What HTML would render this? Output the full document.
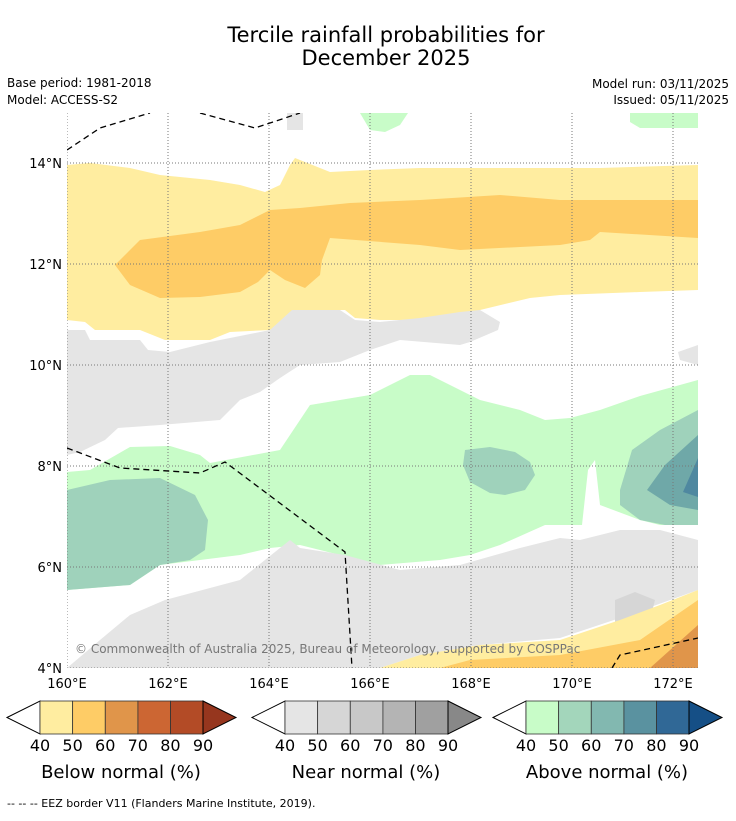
<!DOCTYPE html>
<html><head><meta charset="utf-8"><style>
body{margin:0;background:#fff;font-family:"Liberation Sans","DejaVu Sans",sans-serif}
svg text{font-family:"DejaVu Sans","Liberation Sans",sans-serif}
</style></head><body>
<svg id="s" width="736" height="816" viewBox="0 0 736 816">
<text x="386" y="42" font-size="21" text-anchor="middle">Tercile rainfall probabilities for</text>
<text x="386" y="65" font-size="21" text-anchor="middle">December 2025</text>
<text x="7" y="87" font-size="12">Base period: 1981-2018</text>
<text x="7" y="104" font-size="12">Model: ACCESS-S2</text>
<text x="729" y="88" font-size="12" text-anchor="end">Model run: 03/11/2025</text>
<text x="729" y="104" font-size="12" text-anchor="end">Issued: 05/11/2025</text>
<defs><clipPath id="c"><rect x="67" y="113" width="631" height="555"/></clipPath></defs>
<g id="map" clip-path="url(#c)">
<rect x="67" y="113" width="631" height="555" fill="#fff"/>
<polygon fill="#ffeda0" points="67,165 90,163 130,168 160,175 210,180 240,185 265,192 280,185 290,165 295,158 305,162 330,172 370,170 420,168 500,168 600,168 698,165 698,290 640,292 560,295 530,298 480,310 470,320 450,318 400,320 380,320 355,318 345,310 330,310 292,313 270,330 230,332 210,340 165,340 140,330 95,330 85,322 67,320"/>
<polygon fill="#fecc66" points="115,265 140,240 200,232 240,225 270,210 300,208 350,203 420,200 500,195 560,200 698,200 698,238 600,232 590,240 560,245 460,250 420,245 330,238 322,260 320,275 305,288 285,280 270,270 258,282 240,292 200,297 160,298 130,285"/>
<polygon fill="#e5e5e5" points="67,330 85,330 90,340 140,340 148,350 170,352 210,342 270,330 292,310 340,310 355,320 380,322 420,318 460,312 480,310 500,322 498,330 470,342 460,345 400,340 370,350 340,362 300,365 280,378 260,392 240,400 220,420 160,425 118,428 105,440 80,452 67,455"/>
<polygon fill="#e5e5e5" points="678,352 698,345 698,365 680,360"/>
<polygon fill="#e5e5e5" points="287,113 303,113 303,130 287,130"/>
<polygon fill="#c8fcc8" points="67,472 90,470 130,447 170,446 200,455 210,463 280,450 300,420 310,405 340,400 370,395 410,375 430,375 450,385 480,400 520,410 545,420 570,418 600,410 640,396 698,380 698,525 660,525 640,520 600,505 595,460 588,470 582,525 545,525 500,545 470,555 440,560 380,565 340,555 300,545 270,548 240,555 200,560 160,565 130,585 67,590"/>
<polygon fill="#c8fcc8" points="360,113 408,113 400,125 385,132 370,130"/>
<polygon fill="#c8fcc8" points="630,113 698,113 698,128 640,128 630,122"/>
<polygon fill="#9fd2bb" points="67,490 110,480 160,478 195,495 208,520 205,550 190,560 160,565 130,585 67,590"/>
<polygon fill="#9fd2bb" points="465,450 490,447 515,452 530,462 535,475 525,490 505,495 490,493 470,482 463,465"/>
<polygon fill="#9fd2bb" points="620,490 632,450 660,430 698,410 698,525 665,525 640,520 620,505"/>
<polygon fill="#6fa8a8" points="647,490 665,465 698,435 698,510 670,505"/>
<polygon fill="#4f88a0" points="683,492 698,458 698,497"/>
<polygon fill="#e5e5e5" points="67,668 100,640 130,615 165,600 240,580 265,560 290,540 300,548 345,555 400,570 460,565 520,548 560,538 580,540 620,530 660,530 698,540 698,590 620,618 560,638 480,645 420,655 380,668"/>
<polygon fill="#d6d6d6" points="615,600 635,592 655,600 650,620 615,622"/>
<polygon fill="#ffeda0" points="380,668 420,655 480,645 560,640 620,620 660,605 698,590 698,668"/>
<polygon fill="#fecc66" points="440,668 470,660 560,655 640,640 698,600 698,668"/>
<polygon fill="#e0954a" points="650,668 698,625 698,668"/>
<g id="grid" stroke="#777" stroke-width="1" stroke-dasharray="1,2" fill="none"></g>
<g fill="none" stroke="#000" stroke-width="1.3" stroke-dasharray="6,4">
<polyline points="67,150 100,128 150,113"/>
<polyline points="200,113 255,128 300,113"/>
<polyline points="67,448 120,468 200,473 225,462 345,552 352,668"/>
<polyline points="612,668 620,655 698,638"/>
</g>
<text x="75" y="653" font-size="12" fill="#777">© Commonwealth of Australia 2025, Bureau of Meteorology, supported by COSPPac</text>
</g>
<g id="ticks" font-size="13"></g>
<g id="bars"></g>
<text x="7" y="807" font-size="11">--  --  -- EEZ border V11 (Flanders Marine Institute, 2019).</text>
</svg>
<script>
const lonTicks=[160,162,164,166,168,170,172];
const latTicks=[4,6,8,10,12,14];
const cbTicks=["40","50","60","70","80","90"];
const belowColors=["#ffeda0","#fecc66","#e0954a","#cc6633","#b34b26","#96361e"];
const nearColors=["#e5e5e5","#d6d6d6","#c8c8c8","#b4b4b4","#a0a0a0","#888888"];
const aboveColors=["#c8fcc8","#a3d6bb","#82b8b0","#5a92a0","#306896","#154f86"];
const barTitles=["Below normal (%)","Near normal (%)","Above normal (%)"];
const NS="http://www.w3.org/2000/svg";
const x=lon=>67+(lon-160)*50.5, y=lat=>668-(lat-4)*50.5;
function mk(t,a,p){const e=document.createElementNS(NS,t);for(const k in a)e.setAttribute(k,a[k]);p.appendChild(e);return e;}
const grid=document.getElementById('grid'),ticks=document.getElementById('ticks');
lonTicks.forEach(l=>{const g=mk('line',{x1:x(l),x2:x(l),y1:113,y2:668},grid);


const t=mk('text',{x:x(l),y:688,'text-anchor':'middle'},ticks);t.textContent=l+'°E';

});
latTicks.forEach(l=>{const g=mk('line',{x1:67,x2:698,y1:y(l),y2:y(l)},grid);


const t=mk('text',{x:62,y:y(l)+5,'text-anchor':'end'},ticks);t.textContent=l+'°N';

});
const bars=document.getElementById('bars');
[[7,belowColors],[252,nearColors],[493,aboveColors]].forEach(([x0,cols],i)=>{
const r0=x0+33,w=27.2,y0=701,h=33;
const l=mk('polygon',{points:`${x0},${y0+h/2} ${r0},${y0} ${r0},${y0+h}`,fill:'#fff',stroke:'#000','stroke-width':1},bars);


cols.slice(0,5).forEach((c,j)=>{const r=mk('rect',{x:r0+j*w*1.2,y:y0,width:w*1.2,height:h,fill:c,stroke:'#333','stroke-width':0.8},bars);

});
const re=r0+163;
const u=mk('polygon',{points:`${re},${y0} ${re+33},${y0+h/2} ${re},${y0+h}`,fill:cols[5],stroke:'#000','stroke-width':1},bars);


cbTicks.forEach((t,j)=>{const e=mk('text',{x:r0+j*32.6,y:751,'text-anchor':'middle','font-size':16},bars);e.textContent=t;

});
const tt=mk('text',{x:r0+81,y:778,'text-anchor':'middle','font-size':18},bars);tt.textContent=barTitles[i];


});
</script>
</body></html>
